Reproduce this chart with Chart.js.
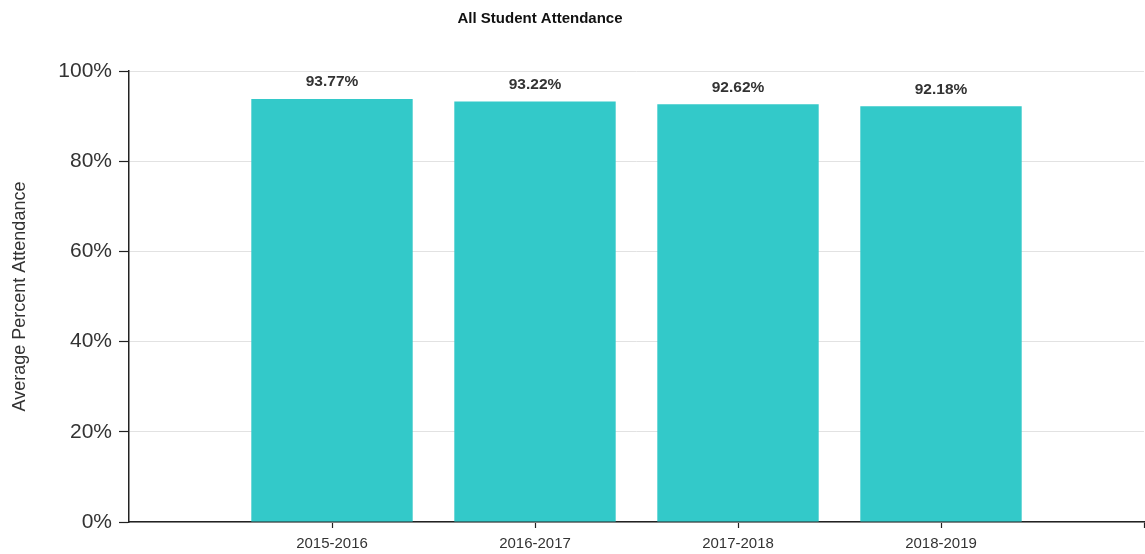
<!DOCTYPE html>
<html>
<head>
<meta charset="utf-8">
<title>All Student Attendance</title>
<script src="https://cdn.jsdelivr.net/npm/chart.js@4.4.1/dist/chart.umd.min.js"></script>
<style>
  html, body { margin: 0; padding: 0; background: #fff; }
  #wrap { width: 1145px; height: 554px; position: relative; }
</style>
</head>
<body>
<div id="wrap"><canvas id="attChart"></canvas></div>
<script>
// === Data ===
const chartTitle = "All Student Attendance";
const seasons = ["2015-2016", "2016-2017", "2017-2018", "2018-2019"];
const attendance = [93.77, 93.22, 92.62, 92.18];
const yTicks = [0, 20, 40, 60, 80, 100];

// empty slot on each side so the bars sit on positions 1..4 of 0..5
const labels = ["", ...seasons, ""];
const values = [null, ...attendance, null];

const FONT = "'Liberation Sans', Arial, sans-serif";
const INK = "#333";

// title drawn over the plot, a bit left of centre
const titlePlugin = {
  id: "titleText",
  afterDraw(chart) {
    const c = chart.ctx;
    c.save();
    c.font = "bold 15px " + FONT;
    c.fillStyle = "#111";
    c.textAlign = "center";
    c.textBaseline = "middle";
    c.fillText(chartTitle, 540, 19);
    c.restore();
  }
};

// value labels above each bar
const valueLabels = {
  id: "valueLabels",
  afterDatasetsDraw(chart) {
    const c = chart.ctx;
    const meta = chart.getDatasetMeta(0);
    c.save();
    c.font = "bold 15.5px " + FONT;
    c.fillStyle = INK;
    c.textAlign = "center";
    c.textBaseline = "middle";
    meta.data.forEach((bar, i) => {
      const v = values[i];
      if (v == null) return;
      c.fillText(v.toFixed(2) + "%", bar.x, bar.y - 17);
    });
    c.restore();
  }
};

const ctx = document.getElementById("attChart").getContext("2d");
new Chart(ctx, {
  type: "bar",
  data: {
    labels: labels,
    datasets: [{
      data: values,
      backgroundColor: "rgb(51, 201, 201)",
      borderWidth: 0,
      barPercentage: 0.795,
      categoryPercentage: 1.0
    }]
  },
  options: {
    responsive: true,
    maintainAspectRatio: false,
    animation: false,
    layout: { padding: { top: 71, right: 1, left: 0, bottom: 0 } },
    plugins: {
      legend: { display: false },
      tooltip: { enabled: false },
      title: { display: false }
    },
    scales: {
      x: {
        offset: false,
        grid: {
          offset: false,
          drawOnChartArea: false,
          drawTicks: true,
          tickLength: 6,
          // no tick under the y axis corner
          tickColor: c => (c.index === 0 ? "rgba(0,0,0,0)" : "#222"),
          tickWidth: 1.2
        },
        border: { color: "#222", width: 1.5 },
        ticks: {
          autoSkip: false,
          maxRotation: 0,
          padding: 7,
          color: INK,
          font: { family: FONT, size: 15 }
        },
        afterFit(scale) {
          scale.height = 32;
          // the end labels are empty, let the axis run to the edge
          scale.paddingLeft = 0;
          scale.paddingRight = 0;
        }
      },
      y: {
        min: 0,
        max: 100,
        afterBuildTicks(scale) {
          scale.ticks = yTicks.map(v => ({ value: v }));
        },
        grid: {
          color: "#e2e2e2",
          tickColor: "#222",
          tickLength: 10,
          tickWidth: 1.2
        },
        border: { color: "#222", width: 1.5 },
        ticks: {
          padding: 7,
          color: INK,
          font: { family: FONT, size: 21 },
          callback: v => v + "%"
        },
        title: {
          display: true,
          text: "Average Percent Attendance",
          color: INK,
          font: { family: FONT, size: 18 },
          padding: { top: 9, bottom: 0 }
        },
        afterFit(scale) { scale.width = 129; }
      }
    }
  },
  plugins: [titlePlugin, valueLabels]
});
</script>
</body>
</html>
